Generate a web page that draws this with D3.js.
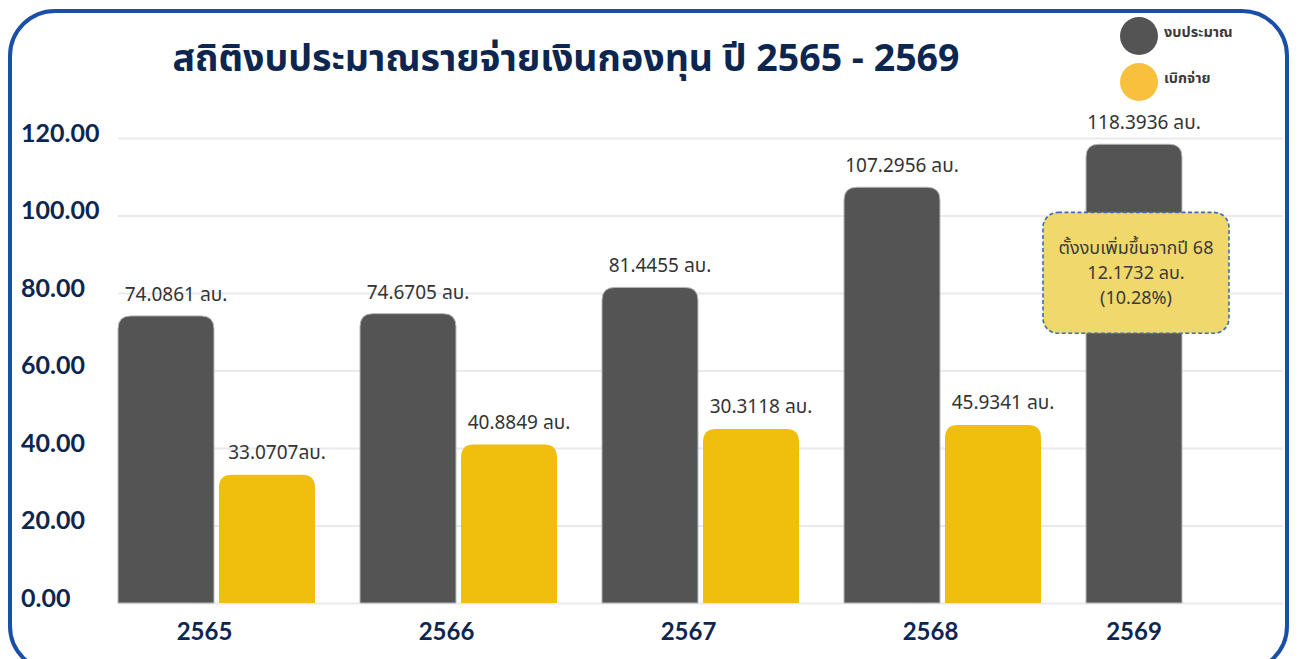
<!DOCTYPE html>
<html>
<head>
<meta charset="utf-8">
<script src="https://cdn.jsdelivr.net/npm/d3@7"></script>
<style>
  body { margin: 0; background: #fff; }
  svg { display: block; font-family: "Noto Sans Thai", "Noto Sans", Lato, sans-serif; }
</style>
</head>
<body>
<div id="chart"></div>
<script>
// data
var years = ["2565", "2566", "2567", "2568", "2569"];
var budget = [74.0861, 74.6705, 81.4455, 107.2956, 118.3936];
var budgetLabels = ["74.0861 ลบ.", "74.6705 ลบ.", "81.4455 ลบ.", "107.2956 ลบ.", "118.3936 ลบ."];
var spend = [33.0707, 40.8849, 44.9, 45.9341, null];
var spendLabels = ["33.0707ลบ.", "40.8849 ลบ.", "30.3118 ลบ.", "45.9341 ลบ.", ""];
var yTicks = [0, 20, 40, 60, 80, 100, 120];
var seriesNames = ["งบประมาณ", "เบิกจ่าย"];
var titleText = "สถิติงบประมาณรายจ่ายเงินกองทุน ปี 2565 - 2569";
var noteLines = ["ตั้งงบเพิ่มขึ้นจากปี 68", "12.1732 ลบ.", "(10.28%)"];

var width = 1298, height = 659;
var grayCol = "#545454", yellowCol = "#f0be0c", navy = "#0c2650";

var svg = d3.select("#chart").append("svg")
    .attr("width", width)
    .attr("height", height);

// frame
svg.append("rect")
    .attr("x", 10).attr("y", 11)
    .attr("width", 1277).attr("height", 660)
    .attr("rx", 45).attr("ry", 45)
    .attr("fill", "none")
    .attr("stroke", "#1a4fa8")
    .attr("stroke-width", 4);

var x0 = d3.scaleBand()
    .domain(years)
    .range([118, 1283])
    .paddingInner(0.186)
    .paddingOuter(0);

var x1 = d3.scaleBand()
    .domain(["budget", "spend"])
    .range([0, x0.bandwidth()])
    .paddingInner(0.05);

var y = d3.scaleLinear()
    .domain([0, 120])
    .range([603, 138]);

var yAxis = d3.axisLeft(y)
    .tickValues(yTicks)
    .tickFormat(d3.format(".2f"))
    .tickSize(-(1283 - 118));

var gy = svg.append("g")
    .attr("transform", "translate(118,0)")
    .call(yAxis);
gy.select(".domain").remove();
gy.selectAll(".tick line").attr("stroke", "#e9eaf0").attr("stroke-width", 2);
gy.selectAll(".tick text")
    .attr("x", -97)
    .attr("dy", "0.32em")
    .attr("transform", "translate(0,-5)")
    .attr("text-anchor", "start")
    .attr("fill", navy)
    .style("font-family", "Lato, sans-serif")
    .style("font-weight", "bold")
    .style("font-size", "25px");

function topRounded(xp, yp, w, h, r) {
  r = Math.min(r, h);
  return "M" + xp + "," + (yp + h) +
    "V" + (yp + r) +
    "Q" + xp + "," + yp + " " + (xp + r) + "," + yp +
    "H" + (xp + w - r) +
    "Q" + (xp + w) + "," + yp + " " + (xp + w) + "," + (yp + r) +
    "V" + (yp + h) + "Z";
}

var groups = svg.selectAll(".grp")
    .data(years)
    .enter().append("g")
    .attr("class", "grp")
    .attr("transform", function(d) { return "translate(" + x0(d) + ",0)"; });

// budget bars
groups.append("path")
    .attr("d", function(d, i) {
      return topRounded(x1("budget"), y(budget[i]), x1.bandwidth(), y(0) - y(budget[i]), 13);
    })
    .attr("fill", grayCol)
    .attr("stroke", "#b5b5b5")
    .attr("stroke-width", 1);

// spend bars
groups.filter(function(d, i) { return spend[i] != null; })
    .append("path")
    .attr("d", function(d) {
      var i = years.indexOf(d);
      return topRounded(x1("spend"), y(spend[i]), x1.bandwidth(), y(0) - y(spend[i]), 13);
    })
    .attr("fill", yellowCol);

// value labels
groups.append("text")
    .attr("x", x1("budget") + x1.bandwidth() / 2 + 10)
    .attr("y", function(d, i) { return y(budget[i]) - 15; })
    .attr("text-anchor", "middle")
    .attr("fill", "#333")
    .style("font-size", "19px")
    .text(function(d, i) { return budgetLabels[i]; });

groups.append("text")
    .attr("x", x1("spend") + x1.bandwidth() / 2 + 10)
    .attr("y", function(d, i) { return spend[i] == null ? 0 : y(spend[i]) - 16; })
    .attr("text-anchor", "middle")
    .attr("fill", "#333")
    .style("font-size", "19px")
    .text(function(d, i) { return spendLabels[i]; });

// category labels
groups.append("text")
    .attr("x", function(d, i) {
      return spend[i] == null ? x1("budget") + x1.bandwidth() / 2 : x0.bandwidth() / 2 - 12;
    })
    .attr("y", 640)
    .attr("text-anchor", "middle")
    .attr("fill", navy)
    .style("font-family", "Lato, sans-serif")
    .style("font-weight", "bold")
    .style("font-size", "24px")
    .text(function(d) { return d; });

// callout on last bar
var last = years[years.length - 1];
var cx = x0(last) + x1("budget") + x1.bandwidth() / 2 + 2;
var note = svg.append("g");
note.append("rect")
    .attr("x", cx - 93).attr("y", y(100.8))
    .attr("width", 186).attr("height", y(69.6) - y(100.8))
    .attr("rx", 15).attr("ry", 15)
    .attr("fill", "#f0d86a")
    .attr("stroke", "#3a6db5")
    .attr("stroke-width", 1.6)
    .attr("stroke-dasharray", "4,2.5");
note.selectAll("text")
    .data(noteLines)
    .enter().append("text")
    .attr("x", cx)
    .attr("y", function(d, i) { return y(100.8) + 42 + i * 25; })
    .attr("text-anchor", "middle")
    .attr("fill", "#3a3a3a")
    .style("font-size", "18px")
    .text(function(d) { return d; });

// title
svg.append("text")
    .attr("x", 566)
    .attr("y", 71)
    .attr("text-anchor", "middle")
    .attr("fill", navy)
    .style("font-weight", "bold")
    .style("font-size", "37.5px")
    .text(titleText);

// legend
var legCols = [grayCol, "#f8c03c"];
var leg = svg.selectAll(".leg")
    .data(seriesNames)
    .enter().append("g")
    .attr("class", "leg")
    .attr("transform", function(d, i) { return "translate(1139," + (36 + i * 46) + ")"; });
leg.append("circle")
    .attr("r", 19)
    .attr("fill", function(d, i) { return legCols[i]; });
leg.append("text")
    .attr("x", 25)
    .attr("y", 0)
    .attr("dy", "0.1em")
    .attr("fill", "#3a3a3a")
    .style("font-size", "14.5px")
    .style("font-weight", "bold")
    .text(function(d) { return d; });
</script>
</body>
</html>
